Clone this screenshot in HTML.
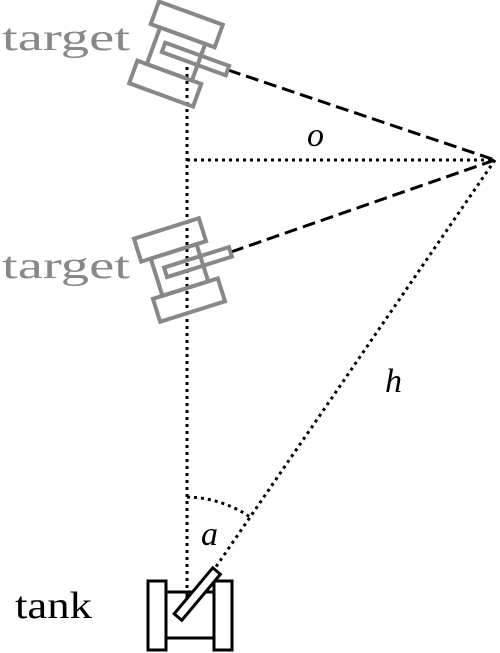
<!DOCTYPE html>
<html><head><meta charset="utf-8"><style>
html,body{margin:0;padding:0;background:#fff}
svg{display:block}
text{font-family:"Liberation Serif",serif}
</style></head><body>
<svg width="500" height="653" viewBox="0 0 500 653">
<g fill="none" stroke="#000" stroke-width="3">
<line x1="187" y1="60" x2="187" y2="600" stroke-dasharray="3,4"/>
<line x1="187" y1="160" x2="495" y2="160" stroke-dasharray="3,4"/>
<line x1="495" y1="160" x2="185" y2="612" stroke-dasharray="3,4"/>
<line x1="228" y1="70" x2="495" y2="160" stroke-dasharray="13,6"/>
<line x1="231" y1="252" x2="495" y2="160" stroke-dasharray="13,6"/>
<path d="M187 497 A115 115 0 0 1 250 517" stroke-dasharray="3,4"/>
</g>
<g transform="translate(176,54) rotate(20)" fill="none" stroke="#888" stroke-width="4">
<rect x="-24" y="-19.5" width="48" height="39"/>
<rect x="-34" y="-43.5" width="68" height="24"/>
<rect x="-34" y="19.5" width="68" height="24"/>
<rect x="-14" y="-7" width="68" height="10"/>
</g>
<g transform="translate(179.5,270) rotate(-17.5)" fill="none" stroke="#888" stroke-width="4">
<rect x="-24" y="-19.5" width="48" height="39"/>
<rect x="-34" y="-43.5" width="68" height="24"/>
<rect x="-34" y="19.5" width="68" height="24"/>
<rect x="-14" y="-7" width="68" height="10"/>
</g>
<g fill="none" stroke="#000" stroke-width="3">
<rect x="166" y="592" width="48" height="46"/>
<rect x="148" y="581" width="18" height="69"/>
<rect x="214" y="581" width="18" height="69"/>
<g transform="translate(178,617) rotate(-50)"><rect x="0" y="-5" width="60" height="10" fill="#fff"/></g>
</g>
<line x1="187" y1="595" x2="187" y2="602" stroke="#000" stroke-width="3" stroke-dasharray="3,4"/>
<text x="2" y="50" font-size="38" fill="#888" textLength="128" lengthAdjust="spacingAndGlyphs">target</text>
<text x="2" y="278" font-size="38" fill="#888" textLength="128" lengthAdjust="spacingAndGlyphs">target</text>
<text x="15" y="618" font-size="38" fill="#000" textLength="77" lengthAdjust="spacingAndGlyphs">tank</text>
<text x="307" y="146" font-size="34" font-style="italic">o</text>
<text x="385" y="392" font-size="34" font-style="italic">h</text>
<text x="201" y="545" font-size="34" font-style="italic">a</text>
</svg>
</body></html>
